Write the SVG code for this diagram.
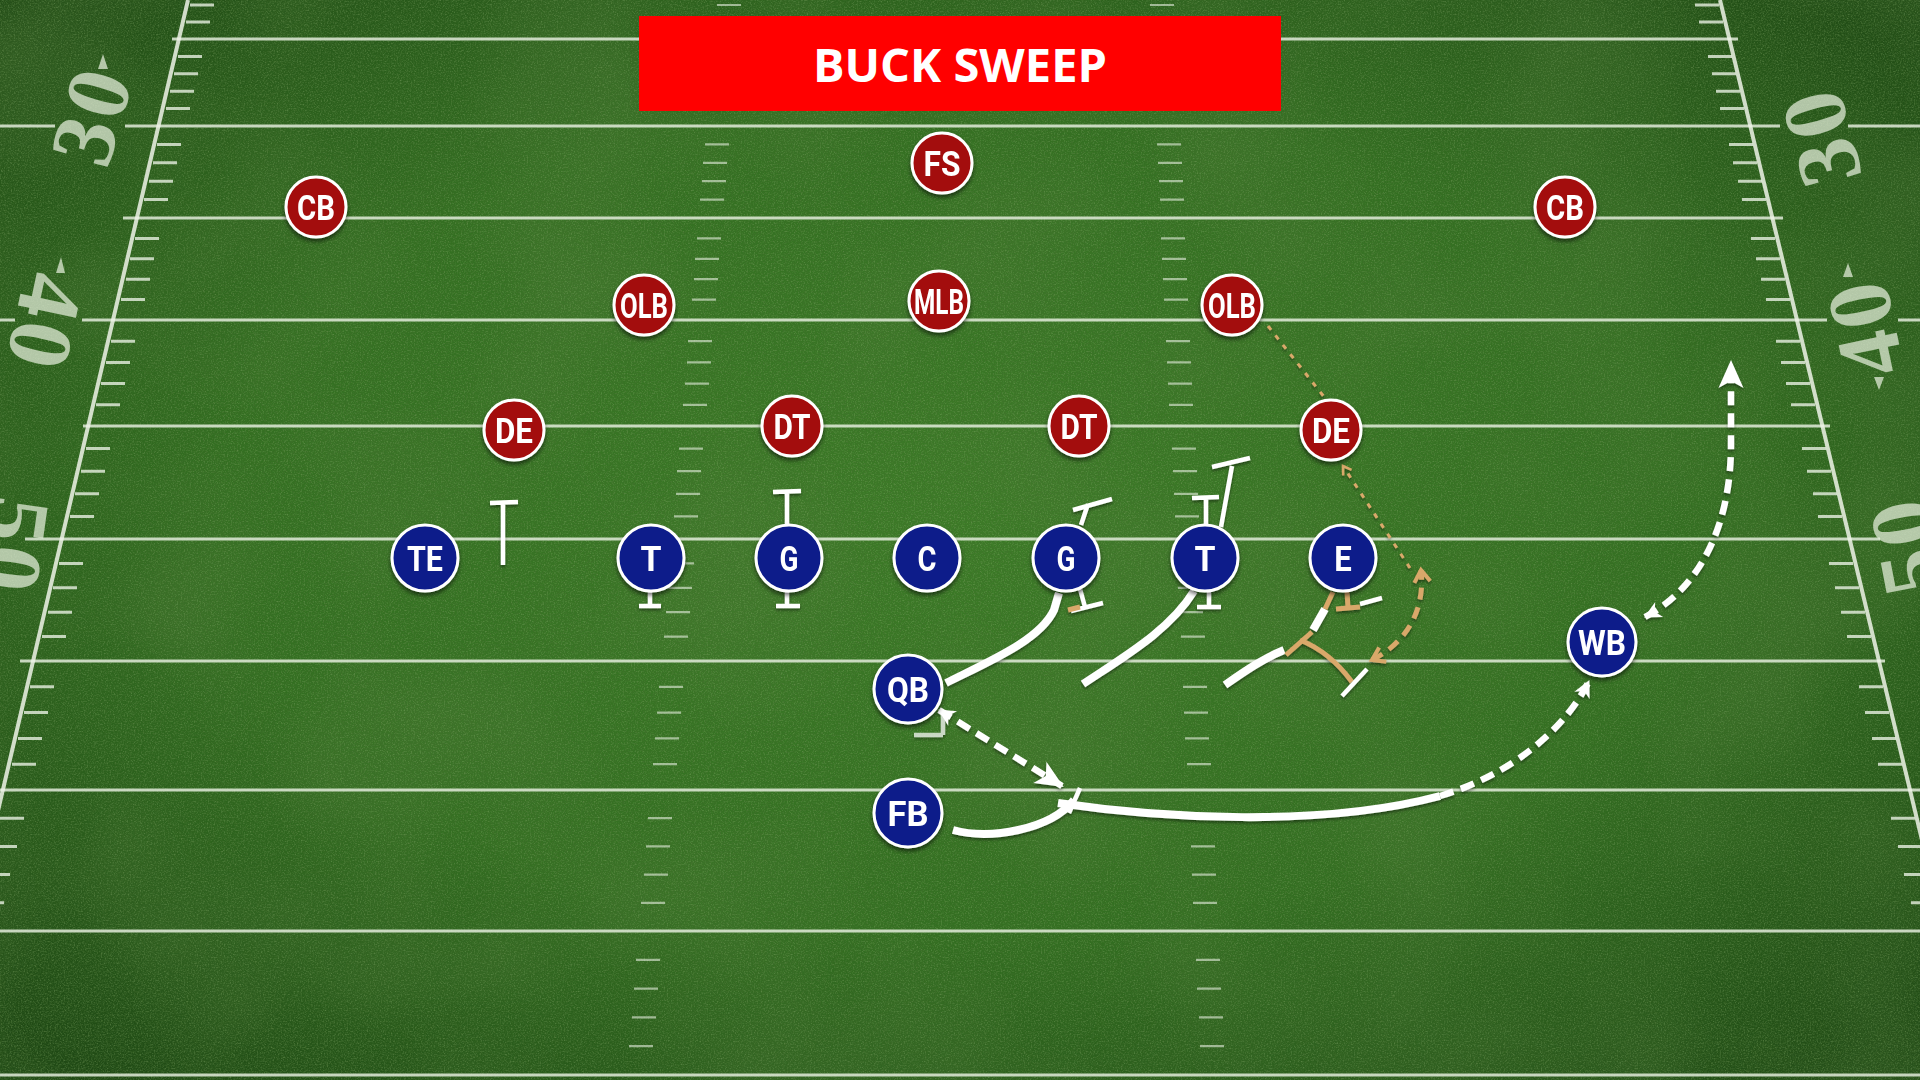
<svg xmlns="http://www.w3.org/2000/svg" width="1920" height="1080" viewBox="0 0 1920 1080">
<defs>
<style>
.yl{stroke:#e9f0e2;stroke-opacity:.82;stroke-width:3;fill:none}
.tick{stroke:#e9f0e2;stroke-opacity:.8;stroke-width:3;fill:none}
.hash{stroke:#e9f0e2;stroke-opacity:.6;stroke-width:2.2;fill:none}
.side{stroke:#eef3e8;stroke-opacity:.85;stroke-width:4;fill:none}
.num{font-family:"Liberation Serif","DejaVu Serif",serif;font-weight:700;font-size:90px;fill:#e6eedd;fill-opacity:.72;text-anchor:middle;letter-spacing:4px}
.tri{fill:#e6eedd;fill-opacity:.72}
.lbl{font-family:Roboto,"Liberation Sans",sans-serif;font-weight:700;font-size:35px;fill:#fff;text-anchor:middle}
.def{fill:#a30c0c;stroke:#fff;stroke-width:3}
.off{fill:#0c1c8a;stroke:#fff;stroke-width:3}
.blk{stroke:#fff;stroke-width:4.5;fill:none;stroke-linecap:butt}
.thick{stroke:#fff;stroke-width:8;fill:none;stroke-linecap:butt}
.dash{stroke:#fff;stroke-width:6.5;fill:none;stroke-dasharray:14 8}
.tan{stroke:#d9a86a;stroke-width:5;fill:none}
.tandash{stroke:#d9a86a;stroke-width:5;fill:none;stroke-dasharray:12 8}
.tandot{stroke:#d9a86a;stroke-width:3;fill:none;stroke-dasharray:5 7}
</style>
<radialGradient id="turf" cx="50%" cy="48%" r="70%">
<stop offset="0" stop-color="#3c7b27"/>
<stop offset="0.55" stop-color="#336f21"/>
<stop offset="1" stop-color="#1e4714"/>
</radialGradient>
<filter id="grainDark" filterUnits="userSpaceOnUse" x="0" y="0" width="1920" height="1080">
<feTurbulence type="fractalNoise" baseFrequency="0.6" numOctaves="3" seed="7"/>
<feColorMatrix type="matrix" values="0 0 0 0 0.06  0 0 0 0 0.16  0 0 0 0 0.03  1.6 0 0 0 -0.62"/>
</filter>
<filter id="grainLight" filterUnits="userSpaceOnUse" x="0" y="0" width="1920" height="1080">
<feTurbulence type="fractalNoise" baseFrequency="0.7" numOctaves="2" seed="21"/>
<feColorMatrix type="matrix" values="0 0 0 0 0.42  0 0 0 0 0.62  0 0 0 0 0.28  0 1.5 0 0 -0.72"/>
</filter>
<filter id="mottle" filterUnits="userSpaceOnUse" x="0" y="0" width="1920" height="1080">
<feTurbulence type="fractalNoise" baseFrequency="0.006" numOctaves="2" seed="4"/>
<feColorMatrix type="matrix" values="0 0 0 0 0.08  0 0 0 0 0.2  0 0 0 0 0.04  1.2 0 0 0 -0.45"/>
</filter>
<filter id="shadow" x="-30%" y="-30%" width="160%" height="170%">
<feDropShadow dx="0" dy="3" stdDeviation="2" flood-color="#000" flood-opacity="0.55"/>
</filter>
<filter id="lshadow" x="-10%" y="-10%" width="120%" height="130%">
<feDropShadow dx="0" dy="2" stdDeviation="1.5" flood-color="#000" flood-opacity="0.45"/>
</filter>
<marker id="ahBig" markerUnits="userSpaceOnUse" markerWidth="34" markerHeight="30" viewBox="-30 -15 34 30" refX="0" refY="0" orient="auto-start-reverse">
<path d="M2,0 L-26,-12.5 L-19,0 L-26,12.5 Z" fill="#fff"/>
</marker>
<marker id="ahSmall" markerUnits="userSpaceOnUse" markerWidth="22" markerHeight="20" viewBox="-20 -10 22 20" refX="0" refY="0" orient="auto-start-reverse">
<path d="M1,0 L-16,-8.5 L-11,0 L-16,8.5 Z" fill="#fff"/>
</marker>
<marker id="ahTan" markerUnits="userSpaceOnUse" markerWidth="20" markerHeight="20" viewBox="-16 -10 20 20" refX="0" refY="0" orient="auto-start-reverse">
<path d="M-12,-8 L0,0 L-12,8" fill="none" stroke="#d9a86a" stroke-width="4"/>
</marker>
<marker id="ahTanS" markerUnits="userSpaceOnUse" markerWidth="14" markerHeight="14" viewBox="-10 -7 14 14" refX="0" refY="0" orient="auto-start-reverse">
<path d="M-8,-5 L0,0 L-8,5" fill="none" stroke="#d9a86a" stroke-width="2.5"/>
</marker>
</defs>

<g id="field">
<rect x="0" y="0" width="1920" height="1080" fill="url(#turf)"/>
<rect x="0" y="0" width="1920" height="1080" filter="url(#mottle)" opacity="0.6"/>
<rect x="0" y="0" width="1920" height="1080" filter="url(#grainDark)" opacity="0.7"/>
<rect x="0" y="0" width="1920" height="1080" filter="url(#grainLight)" opacity="0.45"/>
<path class="yl" d="M172,39H1738 M0,126H55 M125,126H1780 M1848,126H1920 M123,218H1783 M0,320H15 M82,320H1827 M1898,320H1920 M83,426H1830 M25,539H1880 M20,661H1885 M0,790H1920 M0,931H1920 M0,1075H1920"/>
<path class="side" d="M188,0 L-3,815 M1720,0 L1922,840"/>
<path class="tick" d="M190,5h24 M186,22h24 M178,56.4h24 M174,73.8h24 M170,91.2h24 M166,108.6h24 M157,144.4h24 M153,162.8h24 M149,181.2h24 M144,199.6h24 M135,238.4h24 M130,258.8h24 M126,279.2h24 M121,299.6h24 M111,341.2h24 M106,362.4h24 M101,383.6h24 M96,404.8h24 M86,448.6h24 M81,471.2h24 M75,493.8h24 M70,516.4h24 M59,563.4h24 M53,587.8h24 M48,612.2h24 M42,636.6h24 M30,686.8h24 M24,712.6h24 M18,738.4h24 M12,764.2h24 M0,818.2h24 M-7,846.4h24 M-14,874.6h24 M-20,902.8h24"/>
<path class="tick" d="M1695,5h24 M1699,22h24 M1708,56.4h24 M1712,73.8h24 M1716,91.2h24 M1720,108.6h24 M1729,144.4h24 M1733,162.8h24 M1738,181.2h24 M1742,199.6h24 M1751,238.4h24 M1756,258.8h24 M1761,279.2h24 M1766,299.6h24 M1776,341.2h24 M1781,362.4h24 M1786,383.6h24 M1791,404.8h24 M1802,448.6h24 M1807,471.2h24 M1813,493.8h24 M1818,516.4h24 M1829,563.4h24 M1835,587.8h24 M1841,612.2h24 M1847,636.6h24 M1859,686.8h24 M1865,712.6h24 M1872,738.4h24 M1878,764.2h24 M1891,818.2h24 M1898,846.4h24 M1904,874.6h24 M1911,902.8h24"/>
<path class="hash" d="M717,5h24 M715,22h24 M712,56.4h24 M711,73.8h24 M709,91.2h24 M708,108.6h24 M705,144.4h24 M703,162.8h24 M702,181.2h24 M700,199.6h24 M697,238.4h24 M695,258.8h24 M694,279.2h24 M692,299.6h24 M688,341.2h24 M687,362.4h24 M685,383.6h24 M683,404.8h24 M679,448.6h24 M677,471.2h24 M676,493.8h24 M674,516.4h24 M670,563.4h24 M668,587.8h24 M666,612.2h24 M664,636.6h24 M659,686.8h24 M657,712.6h24 M655,738.4h24 M653,764.2h24 M648,818.2h24 M646,846.4h24 M644,874.6h24 M641,902.8h24 M636,959.8h24 M634,988.6h24 M632,1017.4h24 M629,1046.2h24"/>
<path class="hash" d="M1150,5h24 M1151,22h24 M1153,56.4h24 M1154,73.8h24 M1154,91.2h24 M1155,108.6h24 M1157,144.4h24 M1158,162.8h24 M1159,181.2h24 M1160,199.6h24 M1161,238.4h24 M1162,258.8h24 M1163,279.2h24 M1164,299.6h24 M1166,341.2h24 M1167,362.4h24 M1168,383.6h24 M1169,404.8h24 M1172,448.6h24 M1173,471.2h24 M1174,493.8h24 M1175,516.4h24 M1177,563.4h24 M1178,587.8h24 M1179,612.2h24 M1181,636.6h24 M1183,686.8h24 M1184,712.6h24 M1185,738.4h24 M1187,764.2h24 M1189,818.2h24 M1191,846.4h24 M1192,874.6h24 M1193,902.8h24 M1196,959.8h24 M1197,988.6h24 M1199,1017.4h24 M1200,1046.2h24"/>
<text class="num" transform="translate(91,115) rotate(-74)" x="0" y="31">30</text>
<text class="num" transform="translate(46,323) rotate(102)" x="0" y="31">40</text>
<text class="num" transform="translate(14,546) rotate(98)" x="0" y="31">50</text>
<text class="num" transform="translate(1820,137) rotate(-105)" x="0" y="31">30</text>
<text class="num" transform="translate(1864,328) rotate(-102)" x="0" y="31">40</text>
<text class="num" transform="translate(1906,546) rotate(-101)" x="0" y="31">50</text>
<path class="tri" d="M103,54 L108,69 L98,69 Z M61,257 L65,273 L56,273 Z M1848,263 L1853,277 L1843,277 Z M1879,390 L1874,377 L1884,377 Z"/>
</g>

<g id="title">
<rect x="639" y="16" width="642" height="95" fill="#ff0000"/>
<text x="960" y="82" text-anchor="middle" font-family="'Open Sans','Liberation Sans',sans-serif" font-weight="700" font-size="47" fill="#fff">BUCK SWEEP</text>
</g>

<g id="connectors" filter="url(#lshadow)">
<path class="blk" d="M503,565 L503,503 M490,503 L518,502"/>
<path class="blk" d="M650,590 L650,606 M639,606 L661,606"/>
<path class="blk" d="M787,524 L787,492 M773,492 L801,491"/>
<path class="blk" d="M787,590 L787,606 M776,606 L800,606"/>
<path class="blk" d="M1081,525 L1088,504 M1073,510 L1112,499"/>
<path class="blk" d="M1080,589 L1085,607 M1071,611 L1103,603"/>
<path class="tan" stroke-width="4" d="M1068,610 L1080,607"/>
<path class="thick" d="M946,683 C990,661 1040,640 1054,610 L1059,593"/>
<path class="blk" d="M1206,524 L1206,498 M1192,498 L1219,497"/>
<path class="blk" d="M1221,527 L1232,466 M1212,467 L1250,458"/>
<path class="blk" d="M1209,590 L1209,607 M1197,607 L1221,607"/>
<path class="thick" d="M1083,684 C1125,656 1170,630 1194,591"/>
<path class="thick" d="M1225,685 C1245,671 1264,658 1284,650"/>
<path class="tan" stroke-width="6" d="M1286,655 L1312,632"/>
<path class="thick" stroke-width="7" d="M1313,630 L1325,609"/>
<path class="tan" stroke-width="4" d="M1325,609 L1333,592"/>
<path class="tan" d="M1300,640 Q1330,652 1352,682"/>
<path class="blk" stroke-width="5" d="M1342,696 L1367,669"/>
<path class="tan" stroke-width="4" d="M1347,591 L1348,608 M1336,609 L1360,607"/>
<path class="blk" stroke-width="5" d="M1360,604 L1382,598"/>
<path class="tandash" d="M1372,660 C1402,645 1426,615 1421,570" marker-start="url(#ahTan)" marker-end="url(#ahTan)"/>
<path class="tandot" d="M1410,568 L1343,466" marker-end="url(#ahTanS)"/>
<path class="tandot" d="M1268,326 L1325,398"/>
<path class="dash" d="M939,710 L1062,786" marker-start="url(#ahSmall)" marker-end="url(#ahBig)"/>
<path class="blk" stroke-width="2" stroke-opacity="0.7" d="M914,735 L943,735 M943,713 L943,735"/>
<path class="thick" stroke-width="7" d="M953,830 C990,840 1050,830 1074,800"/>
<path class="blk" stroke-width="5" d="M1080,788 L1069,813"/>
<path class="thick" stroke-width="6.5" d="M1058,803 C1160,818 1320,828 1440,796"/>
<path class="dash" d="M1440,796 C1510,775 1565,730 1589,681" marker-end="url(#ahSmall)"/>
<path class="dash" d="M1645,617 C1700,588 1732,525 1731,440 L1731,362" marker-start="url(#ahSmall)" marker-end="url(#ahBig)"/>
</g>

<g id="nodes" filter="url(#shadow)">
<g id="def-fs"><circle class="def" cx="942" cy="163" r="30"/><text class="lbl" x="942" y="175.5" textLength="37" lengthAdjust="spacingAndGlyphs">FS</text></g>
<g id="def-cb-left"><circle class="def" cx="316" cy="207" r="30"/><text class="lbl" x="316" y="219.5" textLength="38" lengthAdjust="spacingAndGlyphs">CB</text></g>
<g id="def-cb-right"><circle class="def" cx="1565" cy="207" r="30"/><text class="lbl" x="1565" y="219.5" textLength="38" lengthAdjust="spacingAndGlyphs">CB</text></g>
<g id="def-olb-left"><circle class="def" cx="644" cy="305" r="30"/><text class="lbl" x="644" y="317.5" textLength="48" lengthAdjust="spacingAndGlyphs">OLB</text></g>
<g id="def-mlb"><circle class="def" cx="939" cy="301" r="30"/><text class="lbl" x="939" y="313.5" textLength="50" lengthAdjust="spacingAndGlyphs">MLB</text></g>
<g id="def-olb-right"><circle class="def" cx="1232" cy="305" r="30"/><text class="lbl" x="1232" y="317.5" textLength="48" lengthAdjust="spacingAndGlyphs">OLB</text></g>
<g id="def-de-left"><circle class="def" cx="514" cy="430" r="30"/><text class="lbl" x="514" y="442.5" textLength="38" lengthAdjust="spacingAndGlyphs">DE</text></g>
<g id="def-dt-left"><circle class="def" cx="792" cy="426" r="30"/><text class="lbl" x="792" y="438.5" textLength="37" lengthAdjust="spacingAndGlyphs">DT</text></g>
<g id="def-dt-right"><circle class="def" cx="1079" cy="426" r="30"/><text class="lbl" x="1079" y="438.5" textLength="37" lengthAdjust="spacingAndGlyphs">DT</text></g>
<g id="def-de-right"><circle class="def" cx="1331" cy="430" r="30"/><text class="lbl" x="1331" y="442.5" textLength="38" lengthAdjust="spacingAndGlyphs">DE</text></g>
<g id="off-te"><circle class="off" cx="425" cy="558" r="33"/><text class="lbl" x="425" y="570.5" textLength="36" lengthAdjust="spacingAndGlyphs">TE</text></g>
<g id="off-t-left"><circle class="off" cx="651" cy="558" r="33"/><text class="lbl" x="651" y="570.5" textLength="21" lengthAdjust="spacingAndGlyphs">T</text></g>
<g id="off-g-left"><circle class="off" cx="789" cy="558" r="33"/><text class="lbl" x="789" y="570.5" textLength="19" lengthAdjust="spacingAndGlyphs">G</text></g>
<g id="off-c"><circle class="off" cx="927" cy="558" r="33"/><text class="lbl" x="927" y="570.5" textLength="19" lengthAdjust="spacingAndGlyphs">C</text></g>
<g id="off-g-right"><circle class="off" cx="1066" cy="558" r="33"/><text class="lbl" x="1066" y="570.5" textLength="19" lengthAdjust="spacingAndGlyphs">G</text></g>
<g id="off-t-right"><circle class="off" cx="1205" cy="558" r="33"/><text class="lbl" x="1205" y="570.5" textLength="21" lengthAdjust="spacingAndGlyphs">T</text></g>
<g id="off-e"><circle class="off" cx="1343" cy="558" r="33"/><text class="lbl" x="1343" y="570.5" textLength="17.5" lengthAdjust="spacingAndGlyphs">E</text></g>
<g id="off-qb"><circle class="off" cx="908" cy="689" r="34"/><text class="lbl" x="908" y="701.5" textLength="42" lengthAdjust="spacingAndGlyphs">QB</text></g>
<g id="off-fb"><circle class="off" cx="908" cy="813" r="34"/><text class="lbl" x="908" y="825.5" textLength="41" lengthAdjust="spacingAndGlyphs">FB</text></g>
<g id="off-wb"><circle class="off" cx="1602" cy="642" r="34"/><text class="lbl" x="1602" y="654.5" textLength="48" lengthAdjust="spacingAndGlyphs">WB</text></g>
</g>
</svg>
